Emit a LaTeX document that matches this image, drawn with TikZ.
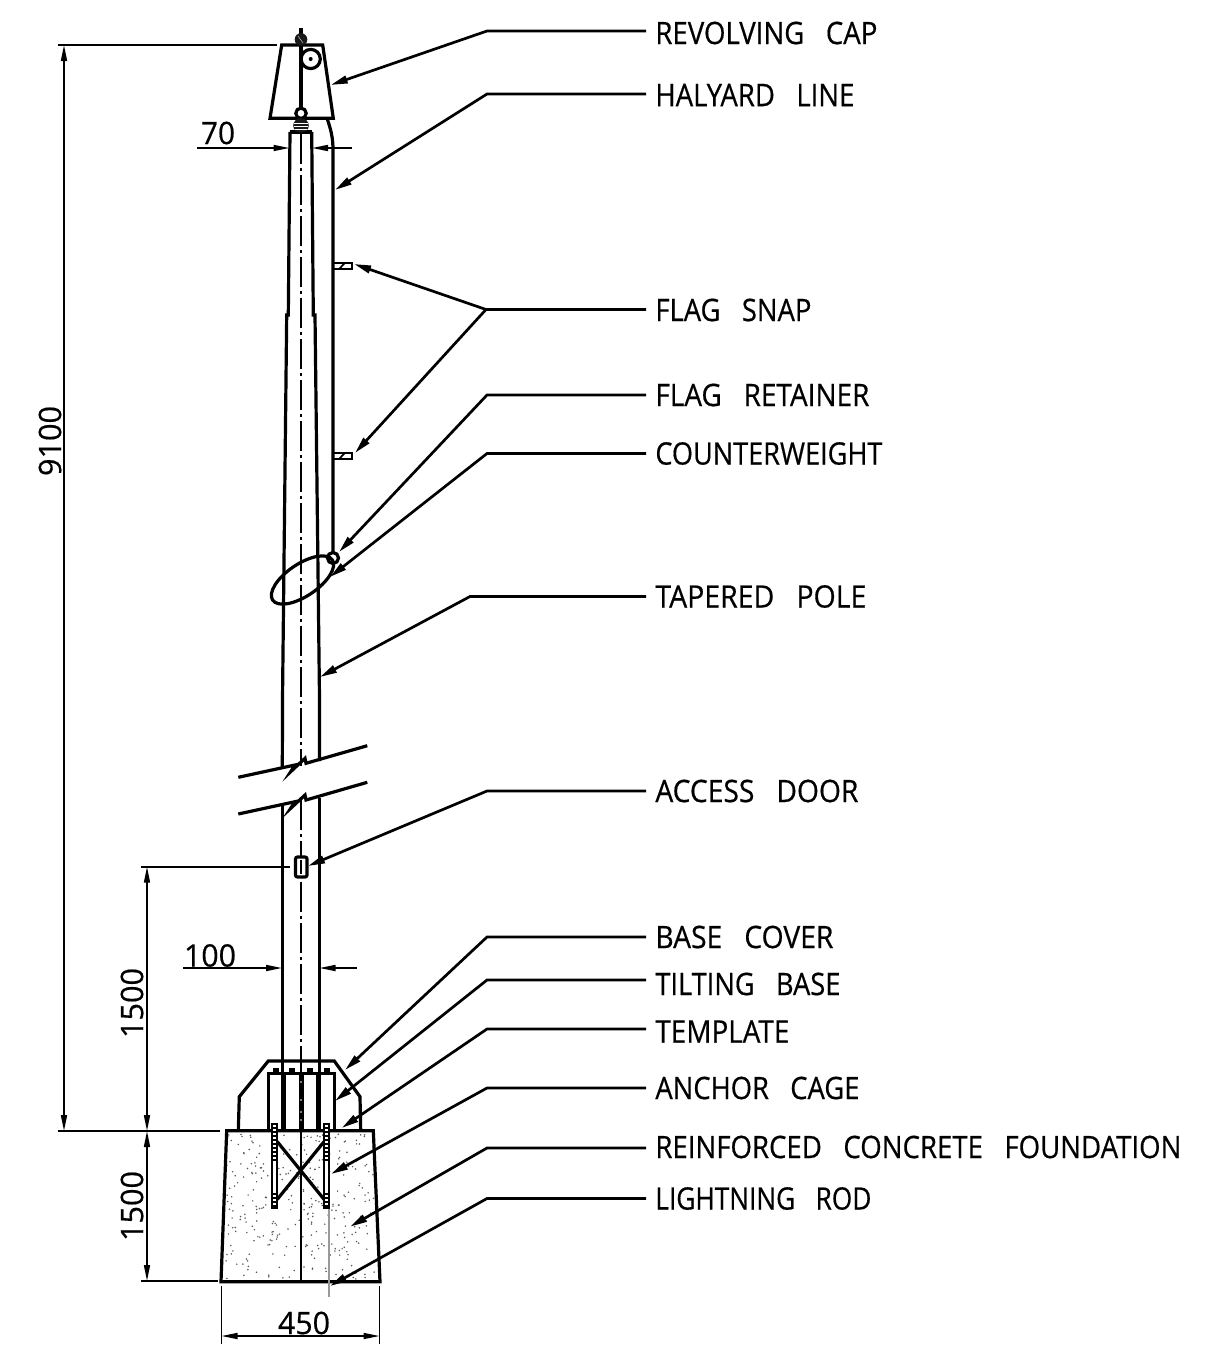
\documentclass[tikz,border=0pt]{standalone}
\usepackage{fontspec}
\usepackage{graphicx}
\setmainfont{Open Sans}[FakeBold=0.5]
\usetikzlibrary{arrows.meta,calc}
\newcommand{\cad}[2]{\resizebox{\dimexpr #1pt/2\relax}{11.2pt}{#2}}
\tikzset{
  x=0.5pt,y=-0.5pt,
  main/.style={line width=1.6pt,line join=miter},
  thin line/.style={line width=0.8pt},
  centerline/.style={line width=1.3pt,dash pattern=on 15pt off 2pt on 1.5pt off 2pt},
  leader/.style={line width=1.35pt,-{Triangle[length=8.5pt,width=3.8pt]}},
  dimarrow/.style={line width=0.8pt,-{Triangle[length=8pt,width=3pt]}},
  dimboth/.style={line width=0.8pt,{Triangle[length=8pt,width=3pt]}-{Triangle[length=8pt,width=3pt]}},
  lbl/.style={anchor=west,inner xsep=4.5pt,inner ysep=0pt},
  dimtext/.style={inner sep=0pt},
}
\begin{document}
\begin{tikzpicture}
\useasboundingbox (0,0) rectangle (1210,1360);
\fill[white] (0,0) rectangle (1210,1360);

% concrete speckle
\begin{scope}
\clip (228,1133) -- (372,1133) -- (378,1280) -- (223,1280) -- cycle;
\pgfmathsetseed{11}
\foreach \i in {1,...,330}{
  \pgfmathsetmacro{\dx}{226+rnd*152}
  \pgfmathsetmacro{\dy}{1134+rnd*145}
  \fill[black!65] (\dx,\dy) circle [radius=0.85];
}
\end{scope}

% pole
\draw[main] (290,132) -- (288.3,315) -- (286.7,315) -- (282.6,690) -- (282.3,767);
\draw[main] (311.7,132) -- (313.3,315) -- (315,315) -- (319.4,690) -- (319.4,761);
\draw[main] (290,132) -- (311.7,132);
\draw[main] (282.3,806) -- (282.3,1074);
\draw[main] (319.4,798) -- (319.4,1074);
\draw[centerline] (301,134) -- (301,766);
\draw[centerline] (301,800) -- (301,1074);

% break lines
\draw[main] (238.3,777.3) -- (295,765) -- (290.7,771.7) -- (305,758.3) -- (306,763.3) -- (367.3,745.7);
\draw[main] (238.3,814) -- (295,801.7) -- (290.7,808.3) -- (305,795) -- (306,800) -- (367.3,782.3);

% revolving cap
\draw[main] (281.7,45) -- (322.7,45) -- (333.3,118.3) -- (270,118.3) -- cycle;
\draw[main] (301,45) -- (301,108);
\draw[main] (301,28) -- (301,36);
\fill[black!90] (301,39.5) circle [radius=6.3];
\draw[white,line width=0.15pt] (298,36) -- (303,43);
\draw[main,fill=white] (310.7,59) circle [radius=9.6];
\fill (310.7,59) circle [radius=2];
\draw[main,fill=white] (301,113.3) circle [radius=5.2];
\fill[black!90] (301,125.5) ellipse [x radius=7.8,y radius=7.2];
\draw[white,line width=0.15pt] (294,123) -- (308,123) (294,126) -- (308,126) (295,129) -- (307,129);

% halyard line
\draw[main] (327.3,119) .. controls (331,130) and (333,138) .. (333,150) -- (333,553);

% flag snaps
\foreach \sy in {262.7,452.7}{
  \draw[line width=1.1pt] (333.3,\sy) rectangle (351.7,\sy+6.5);
  \draw[line width=0.9pt] (339,\sy+6.5) -- (345,\sy);
}

% flag retainer and counterweight ring
\draw[main,shift={(302.5,580)},rotate=34] (0,0) ellipse [x radius=36,y radius=16];
\draw[main] (333,558) circle [radius=5.5];

% access door
\draw[main,fill=white,rounded corners=1pt] (295.5,857) rectangle (307,877);
\draw[thin line] (301,860) -- (301,874);

% base cover and tilting base
\draw[main] (238.3,1130.7) -- (239.3,1096.7) -- (268.3,1061) -- (334.3,1061) -- (360,1096.7) -- (360.7,1130.7);
\draw[main,fill=white] (268.3,1073.3) rectangle (334.3,1130.7);
\foreach \nx in {275.7,292,310,326.7}{
  \fill (\nx-2.8,1067.5) rectangle (\nx+2.8,1073);
}
\fill (280.8,1073) rectangle (285.5,1131);
\fill (316.3,1073) rectangle (320.5,1131);
\fill (298.6,1073) rectangle (303.8,1131);
\foreach \dy in {1082,1100,1112,1120}{\fill[white] (301,\dy) circle [radius=0.8];}

% foundation
\draw[main] (226.7,1130.7) -- (373.3,1130.7) -- (380,1281.7) -- (221,1281.7) -- cycle;
\draw[line width=1.1pt] (301,1131) -- (301,1281);
\draw[main] (277.3,1141.7) -- (324,1199.3);
\draw[main] (324,1141.7) -- (277.3,1199.3);
\draw[black!40,line width=0.8pt] (329,1208) -- (329,1297);
\foreach \bx in {272.3,324}{
  \draw[line width=0.9pt,fill=white] (\bx,1124) rectangle (\bx+5,1208.3);
  \foreach \by in {1128,1132,...,1160}{\draw[line width=1pt] (\bx,\by) -- (\bx+5,\by);}
  \foreach \by in {1194,1198,...,1206}{\draw[line width=1pt] (\bx,\by) -- (\bx+5,\by);}
}

% dimensions
\draw[thin line] (58,45) -- (277,45);
\draw[thin line] (58,1131) -- (220,1131);
\draw[thin line] (141,866.7) -- (290,866.7);
\draw[thin line] (141,1281) -- (218,1281);
\draw[thin line] (221.5,1286) -- (221.5,1344);
\draw[thin line] (379.5,1286) -- (379.5,1344);
\draw[dimboth] (64,45) -- (64,1131);
\draw[dimboth] (147,866.7) -- (147,1131);
\draw[dimboth] (147,1131) -- (147,1281);
\draw[dimboth] (221.5,1336) -- (379.5,1336);
\draw[dimarrow] (197,148) -- (289.5,148);
\draw[dimarrow] (352,148) -- (312,148);
\draw[dimarrow] (183,968) -- (282,968);
\draw[dimarrow] (357,968) -- (319.5,968);
\node[dimtext,rotate=90] (d9100) at (50,441) {\cad{70}{9100}};
\node[dimtext,rotate=90] (d1500a) at (132,1003) {\cad{70}{1500}};
\node[dimtext,rotate=90] (d1500b) at (132,1206) {\cad{70}{1500}};
\node[dimtext] (d450) at (304,1323) {\cad{52}{450}};
\node[dimtext] (d70) at (218,133) {\cad{34}{70}};
\node[dimtext] (d100) at (210,955.5) {\cad{52}{100}};

% labels
\node[lbl] (revolving) at (646,33) {\cad{222}{REVOLVING\ \ \ CAP}};
\node[lbl] (halyard) at (646,95) {\cad{199}{HALYARD\ \ \ LINE}};
\node[lbl] (snap) at (646,310) {\cad{156}{FLAG\ \ \ SNAP}};
\node[lbl] (retainer) at (646,395) {\cad{214}{FLAG\ \ \ RETAINER}};
\node[lbl] (counter) at (646,453.5) {\cad{227}{COUNTERWEIGHT}};
\node[lbl] (tapered) at (646,596.5) {\cad{211}{TAPERED\ \ \ POLE}};
\node[lbl] (door) at (646,791) {\cad{203}{ACCESS\ \ \ DOOR}};
\node[lbl] (cover) at (646,937) {\cad{178}{BASE\ \ \ COVER}};
\node[lbl] (tilting) at (646,984) {\cad{185}{TILTING\ \ \ BASE}};
\node[lbl] (template) at (646,1031.5) {\cad{134}{TEMPLATE}};
\node[lbl] (anchorc) at (646,1088) {\cad{204}{ANCHOR\ \ \ CAGE}};
\node[lbl] (found) at (646,1147) {\cad{526}{REINFORCED\ \ \ CONCRETE\ \ \ FOUNDATION}};
\node[lbl] (rod) at (646,1198.5) {\cad{216}{LIGHTNING\ \ \ ROD}};

% connector targets
\coordinate (tRevolving) at (330.7,85);
\coordinate (tHalyard) at (335,190);
\coordinate (tSnapA) at (354,264);
\coordinate (tSnapB) at (355,453);
\coordinate (tRetainer) at (339,552);
\coordinate (tCounter) at (330,577);
\coordinate (tTapered) at (320,677);
\coordinate (tDoor) at (308,866);
\coordinate (tCover) at (345,1070);
\coordinate (tTilting) at (335,1101);
\coordinate (tTemplate) at (341.7,1128);
\coordinate (tAnchor) at (331,1174);
\coordinate (tFound) at (350,1226.7);
\coordinate (tRod) at (330,1286);

% elbows
\coordinate (eRevolving) at (487,31);
\coordinate (eHalyard) at (487,94);
\coordinate (eSnap) at (486,309.5);
\coordinate (eRetainer) at (487,395);
\coordinate (eCounter) at (487,453.5);
\coordinate (eTapered) at (470,596.5);
\coordinate (eDoor) at (487,791);
\coordinate (eCover) at (487,937);
\coordinate (eTilting) at (487,980);
\coordinate (eTemplate) at (487,1029);
\coordinate (eAnchor) at (487,1088);
\coordinate (eFound) at (487,1148);
\coordinate (eRod) at (487,1198.5);

\draw[leader] (revolving.west |- eRevolving) -- (eRevolving) -- (tRevolving);
\draw[leader] (halyard.west |- eHalyard) -- (eHalyard) -- (tHalyard);
\draw[leader] (snap.west |- eSnap) -- (eSnap) -- (tSnapA);
\draw[leader] (eSnap) -- (tSnapB);
\draw[leader] (retainer.west) -- (eRetainer) -- (tRetainer);
\draw[leader] (counter.west) -- (eCounter) -- (tCounter);
\draw[leader] (tapered.west) -- (eTapered) -- (tTapered);
\draw[leader] (door.west) -- (eDoor) -- (tDoor);
\draw[leader] (cover.west) -- (eCover) -- (tCover);
\draw[leader] (tilting.west |- eTilting) -- (eTilting) -- (tTilting);
\draw[leader] (template.west |- eTemplate) -- (eTemplate) -- (tTemplate);
\draw[leader] (anchorc.west) -- (eAnchor) -- (tAnchor);
\draw[leader] (found.west |- eFound) -- (eFound) -- (tFound);
\draw[leader] (rod.west) -- (eRod) -- (tRod);
\end{tikzpicture}
\end{document}
